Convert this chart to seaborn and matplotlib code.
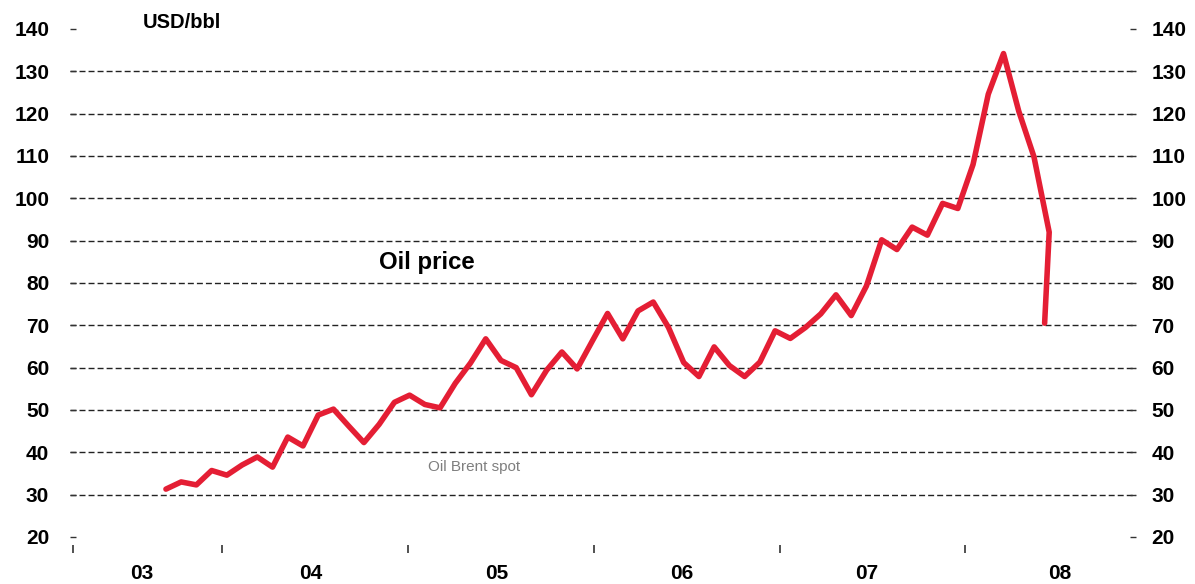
import pandas as pd
import matplotlib
matplotlib.use('Agg')
import matplotlib.pyplot as plt
import seaborn as sns

# Brent spot, monthly points (month index from first observation)
months = list(range(59)) + [57.7]
prices = [31.3, 33.0, 32.3, 35.7, 34.6, 37.0, 38.9, 36.5, 43.6, 41.5,
          48.8, 50.2, 46.2, 42.3, 46.6, 51.8, 53.5, 51.3, 50.5, 56.3,
          61.1, 66.8, 61.7, 60.0, 53.6, 59.4, 63.7, 59.7, 66.3, 72.8,
          66.8, 73.4, 75.5, 69.5, 61.2, 57.9, 64.9, 60.5, 57.9, 61.3,
          68.7, 66.9, 69.5, 72.7, 77.2, 72.3, 79.3, 90.2, 87.9, 93.2,
          91.3, 98.8, 97.6, 108.0, 124.6, 134.2, 120.6, 109.8, 92.0, 70.5]

year_ticks = [-6.1, 3.7, 15.9, 28.1, 40.3, 52.5]
year_label_pos = [-1.6, 9.5, 21.7, 33.9, 46.0, 58.7]
year_labels = ['03', '04', '05', '06', '07', '08']
y_ticks = [20, 30, 40, 50, 60, 70, 80, 90, 100, 110, 120, 130, 140]

df = pd.DataFrame({'month': months, 'price': prices})

sns.set_style('white')
plt.rcParams['font.family'] = ['Liberation Sans', 'DejaVu Sans']
plt.rcParams['text.color'] = 'black'
plt.rcParams['xtick.color'] = 'black'
plt.rcParams['ytick.color'] = 'black'

fig = plt.figure(figsize=(11.95, 5.84), dpi=100)
ax = fig.add_axes([70 / 1195, 1 - 545 / 584, (1136 - 70) / 1195, (545 - 29) / 584])

sns.lineplot(data=df, x='month', y='price', ax=ax, color='#E41E34',
             linewidth=4.0, sort=False, estimator=None)

ax.set_xlim(-6.3, 63.7)
ax.set_ylim(18.1, 140)
for s in ax.spines.values():
    s.set_visible(False)

# y axis: dashed grid, labels both sides
ax.set_yticks(y_ticks)
ax.set_yticklabels([str(v) for v in y_ticks], fontsize=15, fontweight='bold')
ax.tick_params(axis='y', direction='in', length=4, width=1, color='#333333',
               labelcolor='black', pad=15, left=True)
ax.yaxis.grid(True, color='#222222', linewidth=1.0, linestyle=(0, (4.3, 2.2)))
gl = ax.get_ygridlines()
gl[0].set_visible(False)
gl[-1].set_visible(False)

ax2 = ax.twinx()
ax2.set_ylim(ax.get_ylim())
ax2.set_yticks(y_ticks)
ax2.set_yticklabels([str(v) for v in y_ticks], fontsize=15, fontweight='bold')
ax2.tick_params(axis='y', direction='in', length=4, width=1, color='#333333',
                labelcolor='black', pad=11, right=True)
for s in ax2.spines.values():
    s.set_visible(False)

# x axis: year boundary ticks, labels centred between them
ax.set_xticks(year_ticks)
ax.set_xticklabels([''] * len(year_ticks))
ax.tick_params(axis='x', which='major', direction='out', length=6, width=1.2,
               color='#333333', bottom=True)
ax.set_xticks(year_label_pos, minor=True)
ax.set_xticklabels(year_labels, minor=True, fontsize=15, fontweight='bold')
ax.tick_params(axis='x', which='minor', length=0, pad=14, labelcolor='black')
ax.set_xlabel('')
ax.set_ylabel('')

fig.text(143 / 1195, 1 - 22 / 584, 'USD/bbl', fontsize=14.5, fontweight='bold',
         ha='left', va='center')
fig.text(379 / 1195, 1 - 262 / 584, 'Oil price', fontsize=17.3,
         fontweight='bold', ha='left', va='center')
fig.text(428 / 1195, 1 - 467 / 584, 'Oil Brent spot', fontsize=11,
         color='#7f7f7f', ha='left', va='center')

plt.savefig('out.png', dpi=100)
